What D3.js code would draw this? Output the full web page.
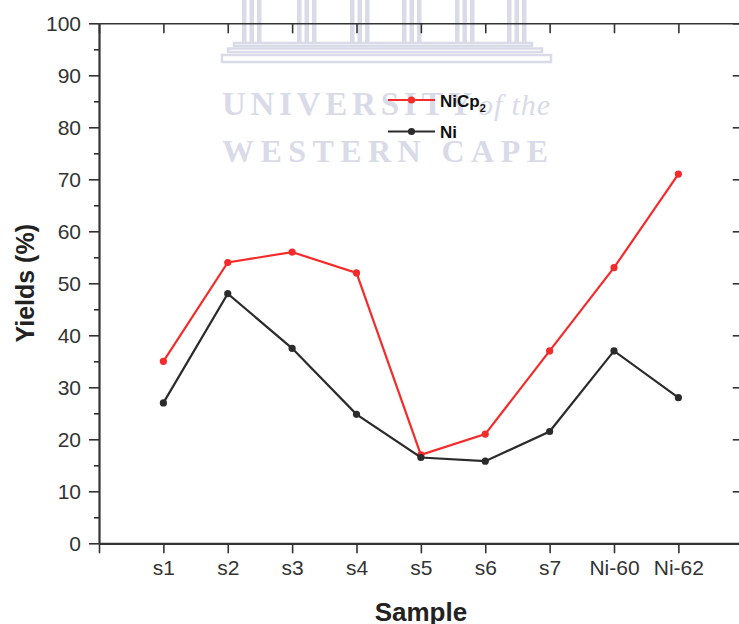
<!DOCTYPE html>
<html>
<head>
<meta charset="utf-8">
<script src="https://cdn.jsdelivr.net/npm/d3@7"></script>
<style>
  html, body { margin: 0; padding: 0; background: #fff; }
  svg { display: block; }
</style>
</head>
<body>
<svg id="chart" width="739" height="624"></svg>
<script>
// Sample categories and yields (%) for the two nickel sources
const samples = ["s1", "s2", "s3", "s4", "s5", "s6", "s7", "Ni-60", "Ni-62"];
const nicp2Yields = [35, 54, 56, 52, 17, 21, 37, 53, 71];
const niYields = [27, 48, 37.5, 24.8, 16.5, 15.8, 21.5, 37, 28];
const yTicks = [0, 10, 20, 30, 40, 50, 60, 70, 80, 90, 100];
const yMinorTicks = [5, 15, 25, 35, 45, 55, 65, 75, 85, 95];
const seriesNames = ["NiCp", "Ni"];

const svg = d3.select("#chart");
const plotLeft = 99, plotTop = 23.3, plotBottom = 543.3;
const step = 64.375;

const x = d3.scaleLinear().domain([0, samples.length + 1]).range([plotLeft, plotLeft + step * (samples.length + 1)]);
const y = d3.scaleLinear().domain([0, 100]).range([plotBottom, plotTop]);
const xPos = (d, i) => x(i + 1);

// ---- faint crest watermark behind the plot ----
const wm = svg.append("g").attr("class", "watermark");
const wmColor = "#d9dbe8";
const colX = [242, 297, 350, 402, 455, 507];
colX.forEach(cx => {
  [0, 7.5, 15].forEach(dx => {
    wm.append("rect").attr("x", cx + dx).attr("y", 0).attr("width", 4.5).attr("height", 42)
      .attr("fill", wmColor);
  });
});
[[234, 43, 298, 3], [228, 48.5, 314, 3.5], [222, 55, 329, 7]].forEach(s => {
  wm.append("rect").attr("x", s[0]).attr("y", s[1]).attr("width", s[2]).attr("height", s[3])
    .attr("fill", "none").attr("stroke", wmColor).attr("stroke-width", 2.5);
});
const serif = "'Liberation Serif', 'DejaVu Serif', serif";
wm.append("text").attr("x", 222).attr("y", 115).attr("textLength", 250).attr("lengthAdjust", "spacing")
  .attr("font-family", serif).attr("font-weight", "bold").attr("font-size", 33)
  .attr("fill", wmColor).text("UNIVERSITY");
wm.append("text").attr("x", 478).attr("y", 115).attr("textLength", 72).attr("lengthAdjust", "spacing")
  .attr("font-family", serif).attr("font-style", "italic").attr("font-size", 30)
  .attr("fill", wmColor).text("of the");
wm.append("text").attr("x", 222).attr("y", 162).attr("textLength", 326).attr("lengthAdjust", "spacing")
  .attr("font-family", serif).attr("font-weight", "bold").attr("font-size", 32)
  .attr("fill", wmColor).text("WESTERN CAPE");

// ---- axes ----
const axisColor = "#333";
const font = "Arial, 'Liberation Sans', Helvetica, sans-serif";
const catTicks = d3.range(0, samples.length + 2);

function styleAxis(g, width) {
  g.select(".domain").attr("stroke", axisColor).attr("stroke-width", width);
  g.selectAll(".tick line").attr("stroke", axisColor).attr("stroke-width", 1.6);
  g.selectAll(".tick text").attr("fill", "#333").attr("font-family", font).attr("font-size", 21);
}

// bottom
const gBottom = svg.append("g").attr("transform", `translate(0,${plotBottom})`)
  .call(d3.axisBottom(x).tickValues(catTicks).tickSize(10).tickSizeOuter(0).tickPadding(7)
    .tickFormat(d => (d >= 1 && d <= samples.length) ? samples[d - 1] : ""));
styleAxis(gBottom, 2.2);

// top (ticks pointing inward, no labels)
const gTop = svg.append("g").attr("transform", `translate(0,${plotTop})`)
  .call(d3.axisTop(x).tickValues(catTicks).tickSize(-10).tickSizeOuter(0).tickFormat(""));
styleAxis(gTop, 1.6);

// left with minor ticks
const gLeft = svg.append("g").attr("transform", `translate(${plotLeft},0)`)
  .call(d3.axisLeft(y).tickValues(yTicks).tickSize(10).tickSizeOuter(0).tickPadding(8));
styleAxis(gLeft, 2.2);
svg.append("g").attr("transform", `translate(${plotLeft},0)`)
  .call(d3.axisLeft(y).tickValues(yMinorTicks).tickSize(5).tickSizeOuter(0).tickFormat(""))
  .call(g => g.select(".domain").remove())
  .call(g => g.selectAll(".tick line").attr("stroke", axisColor).attr("stroke-width", 1.6));

// right (ticks pointing inward)
const gRight = svg.append("g").attr("transform", `translate(${x(samples.length + 1)},0)`)
  .call(d3.axisRight(y).tickValues(yTicks).tickSize(-10).tickSizeOuter(0).tickFormat(""));
styleAxis(gRight, 1.6);

// ---- axis titles ----
svg.append("text")
  .attr("transform", `translate(34,${(plotTop + plotBottom) / 2}) rotate(-90)`)
  .attr("text-anchor", "middle").attr("font-family", font).attr("font-weight", "bold")
  .attr("font-size", 25).attr("fill", "#222").text("Yields (%)");
svg.append("text")
  .attr("x", x((samples.length + 1) / 2)).attr("y", 621)
  .attr("text-anchor", "middle").attr("font-family", font).attr("font-weight", "bold")
  .attr("font-size", 26).attr("fill", "#222").text("Sample");

// ---- series ----
const series = [
  { name: "NiCp2", values: nicp2Yields, color: "#f42b2b" },
  { name: "Ni", values: niYields, color: "#2b2b2b" }
];
const line = d3.line().x((d, i) => xPos(d, i)).y(d => y(d));
series.forEach(s => {
  const g = svg.append("g");
  g.append("path").datum(s.values).attr("d", line)
    .attr("fill", "none").attr("stroke", s.color).attr("stroke-width", 2.2);
  g.selectAll("circle").data(s.values).join("circle")
    .attr("cx", (d, i) => xPos(d, i)).attr("cy", d => y(d)).attr("r", 3.6)
    .attr("fill", s.color);
});

// ---- legend ----
const legend = svg.append("g");
const legendRows = [{ yy: 100, base: 107 }, { yy: 131.5, base: 138 }];
series.forEach((s, i) => {
  const r = legendRows[i];
  legend.append("line").attr("x1", 388).attr("x2", 435).attr("y1", r.yy).attr("y2", r.yy)
    .attr("stroke", s.color).attr("stroke-width", 2.2);
  legend.append("circle").attr("cx", 411.5).attr("cy", r.yy).attr("r", 3.6).attr("fill", s.color);
  const t = legend.append("text").attr("x", 440).attr("y", r.base)
    .attr("font-family", font).attr("font-weight", "bold").attr("font-size", 17).attr("fill", "#111");
  t.append("tspan").text(seriesNames[i]);
  if (i === 0) {
    t.append("tspan").attr("font-size", 11).attr("dy", 5).text("2");
  }
});
</script>
</body>
</html>
